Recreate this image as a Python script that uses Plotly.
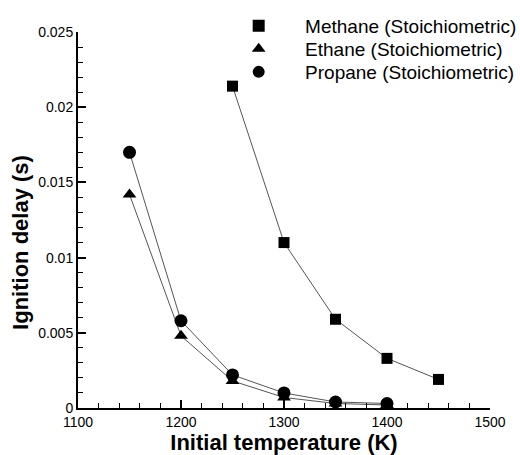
import plotly.graph_objects as go

temps_methane = [1250, 1300, 1350, 1400, 1450]
delay_methane = [0.0214, 0.0110, 0.0059, 0.0033, 0.0019]

temps_ethane = [1150, 1200, 1250, 1300, 1350, 1400]
delay_ethane = [0.0142, 0.0048, 0.0018, 0.0007, 0.0003, 0.0002]

temps_propane = [1150, 1200, 1250, 1300, 1350, 1400]
delay_propane = [0.0170, 0.0058, 0.0022, 0.0010, 0.0004, 0.0003]

names = ["Methane (Stoichiometric)", "Ethane (Stoichiometric)", "Propane (Stoichiometric)"]
symbols = ["square", "triangle-up", "circle"]
sizes = [11, 12, 13]

series = [(temps_methane, delay_methane), (temps_ethane, delay_ethane), (temps_propane, delay_propane)]

fig = go.Figure()
for (x, y) in series:
    fig.add_trace(go.Scatter(x=x, y=y, mode="lines", line=dict(color="#555555", width=1),
                             showlegend=False, hoverinfo="skip"))
pad = "\u00a0" * 5
legend_ids = ["legend", "legend2", "legend3"]
for (x, y), n, s, sz, lg in zip(series, names, symbols, sizes, legend_ids):
    fig.add_trace(go.Scatter(x=x, y=y, mode="markers", name=pad + n, legend=lg,
                             marker=dict(symbol=s, size=sz, color="black", line=dict(width=0))))

leg_common = dict(x=0.39, xanchor="left", yanchor="top", bgcolor="rgba(0,0,0,0)",
                  font=dict(size=19), itemsizing="constant")

fig.update_layout(
    width=520, height=455,
    margin=dict(l=78, r=30, t=32, b=47, autoexpand=False),
    paper_bgcolor="white", plot_bgcolor="white",
    font=dict(family="Liberation Sans, Arial", size=14, color="black"),
    legend=dict(y=1.0665, **leg_common),
    legend2=dict(y=1.0053, **leg_common),
    legend3=dict(y=0.9441, **leg_common),
    xaxis=dict(range=[1100, 1500], dtick=100, showgrid=False, zeroline=False,
               showline=True, linecolor="black", linewidth=2,
               ticks="inside", ticklen=8, tickwidth=2, tickcolor="black",
               minor=dict(dtick=20, ticks="inside", ticklen=5, tickwidth=1, tickcolor="black"),
               title=dict(text="<b>Initial temperature (K)</b>", font=dict(size=22), standoff=3)),
    yaxis=dict(range=[0, 0.025], dtick=0.005, showgrid=False, zeroline=False,
               showline=True, linecolor="black", linewidth=2,
               ticks="inside", ticklen=8, tickwidth=2, tickcolor="black",
               minor=dict(dtick=0.001, ticks="inside", ticklen=5, tickwidth=1, tickcolor="black")),
    annotations=[dict(text="<b>Ignition delay (s)</b>", textangle=-90, showarrow=False,
                      xref="paper", yref="paper", x=-0.14, y=0.44, xanchor="center", yanchor="middle",
                      font=dict(size=22))],
)
fig.write_html("out.html")
